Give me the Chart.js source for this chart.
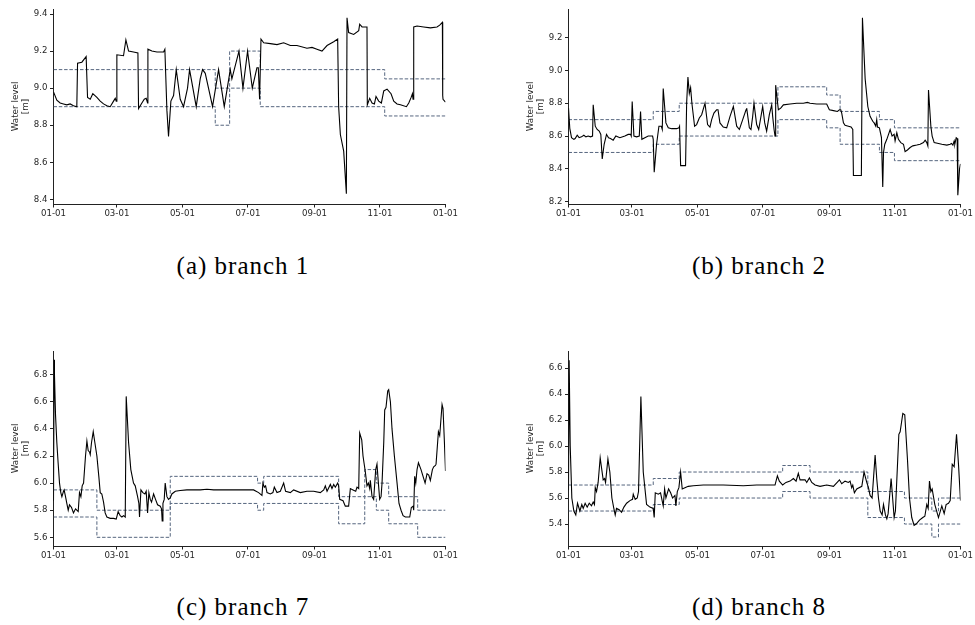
<!DOCTYPE html>
<html>
<head>
<meta charset="utf-8">
<script src="https://cdn.jsdelivr.net/npm/chart.js@4.4.1/dist/chart.umd.min.js"></script>
<style>
  html, body { margin: 0; padding: 0; background: #fff; width: 975px; height: 625px; overflow: hidden; }
  .panel { position: absolute; }
  .caption {
    position: absolute; width: 300px; text-align: center;
    font-family: "Liberation Serif", "Times New Roman", serif;
    font-size: 25px; line-height: 25px; letter-spacing: 1px; color: #000;
  }
</style>
</head>
<body>
<canvas id="chartA" class="panel" width="460" height="230" style="left:0px;top:0px"></canvas>
<canvas id="chartB" class="panel" width="460" height="230" style="left:515px;top:0px"></canvas>
<canvas id="chartC" class="panel" width="460" height="230" style="left:0px;top:341.5px"></canvas>
<canvas id="chartD" class="panel" width="460" height="230" style="left:515px;top:341.5px"></canvas>
<div class="caption" style="left:93px;top:253px">(a) branch 1</div>
<div class="caption" style="left:609px;top:253px">(b) branch 2</div>
<div class="caption" style="left:93px;top:594px">(c) branch 7</div>
<div class="caption" style="left:609px;top:594px">(d) branch 8</div>
<script>
// x axis: day of year, ticks every two months
const tickDays = [0, 59, 120, 181, 243, 304, 365];
const tickLabels = ['01-01', '03-01', '05-01', '07-01', '09-01', '11-01', '01-01'];

// Branch 1
const b1Days = [
  0, 3.1, 6.2, 9.3, 12.4, 15.5, 18.6, 21.7, 22.4, 26.4,
  30.4, 31.7, 34.2, 36.6, 40.4, 43.5, 46.6, 49.7, 52.8, 55.9,
  57.5, 58.4, 59.0, 65.2, 67.4, 69.9, 74.5, 78.6, 79.2, 82.3,
  84.5, 86.3, 87.6, 87.9, 91.6, 96.3, 102.5, 103.7, 105.6, 107.1,
  109.3, 111.8, 114.3, 118.0, 121.1, 124.8, 126.7, 132.9, 136.6, 138.8,
  141.3, 148.1, 153.7, 159.0, 164.6, 166.1, 172.7, 176.4, 180.7, 185.1,
  189.4, 190.7, 191.9, 193.2, 195.7, 201.9, 208.1, 214.3, 220.5, 226.7,
  236.0, 240.7, 245.3, 250.0, 254.7, 260.9, 264.6, 265.5, 267.1, 270.2,
  272.7, 273.3, 274.8, 279.5, 284.2, 285.1, 287.3, 291.9, 292.2, 294.4,
  296.6, 298.8, 300.3, 302.8, 305.3, 307.5, 310.6, 314.3, 316.8, 319.9,
  323.0, 328.6, 330.8, 333.0, 334.2, 334.8, 335.4, 338.5, 344.7, 350.9,
  357.1, 359.6, 362.1, 362.4, 362.7, 365
];
const b1Level = [
  8.98, 8.935, 8.92, 8.915, 8.91, 8.915, 8.905, 8.90, 9.135, 9.14,
  9.17, 8.95, 8.94, 8.97, 8.95, 8.93, 8.915, 8.905, 8.90, 8.93,
  8.945, 8.93, 9.18, 9.175, 9.26, 9.2, 9.195, 9.19, 8.89, 8.92,
  8.94, 8.945, 8.92, 9.21, 9.2, 9.195, 9.195, 9.21, 8.88, 8.74,
  8.93, 8.96, 9.1, 8.94, 8.9, 9.0, 9.1, 8.9, 9.05, 9.1,
  9.08, 8.9, 9.1, 8.9, 9.1, 9.05, 9.2, 9.0, 9.2, 9.0,
  9.11, 9.11, 8.94, 9.265, 9.245, 9.24, 9.235, 9.245, 9.23, 9.23,
  9.215, 9.22, 9.21, 9.2, 9.23, 9.25, 9.265, 8.9, 8.75, 8.66,
  8.43, 9.38, 9.3, 9.29, 9.31, 9.345, 9.33, 9.33, 8.91, 8.945,
  8.92, 8.915, 8.955, 8.93, 8.92, 8.985, 8.995, 8.97, 8.93, 8.915,
  8.91, 8.9, 8.92, 8.95, 8.97, 8.94, 9.33, 9.335, 9.33, 9.325,
  9.33, 9.34, 9.355, 8.96, 8.94, 8.925
];
const b1BoundDays = [0, 150.6, 164, 192.5, 308.4, 365];
const b1Upper = [9.1, 9.0, 9.2, 9.1, 9.05, 9.05];
const b1Lower = [8.9, 8.8, 9.0, 8.9, 8.85, 8.85];
const b1Ticks = [8.4, 8.6, 8.8, 9.0, 9.2, 9.4];

// Branch 2
const b2Days = [
  0, 1.2, 2.8, 5.0, 6.2, 8.1, 9.9, 12.1, 14.3, 16.2,
  18.3, 20.5, 22.4, 23.0, 24.9, 26.7, 28.6, 30.1, 31.4, 33.2,
  35.4, 37.3, 39.1, 41.6, 44.1, 47.8, 52.5, 55.6, 57.8, 58.4,
  59.3, 60.9, 63.4, 65.9, 67.1, 68.3, 71.1, 74.2, 78.3, 78.9,
  79.8, 82.0, 84.2, 86.4, 87.3, 88.2, 90.7, 92.9, 96.0, 100.7,
  102.8, 103.4, 104.4, 109.0, 110.0, 111.2, 112.5, 113.7, 114.9, 117.4,
  119.3, 121.8, 124.0, 127.1, 129.5, 131.7, 133.3, 135.4, 137.9, 139.2,
  141.0, 144.1, 147.3, 150.4, 153.5, 156.6, 159.1, 162.2, 165.3, 165.9,
  168.4, 169.9, 171.5, 172.7, 175.2, 177.1, 180.8, 182.7, 184.5, 187.0,
  189.2, 190.1, 191.4, 192.3, 192.9, 195.4, 197.6, 200.1, 206.3, 212.5,
  218.7, 222.4, 224.9, 231.1, 237.3, 240.4, 242.9, 246.7, 250.4, 252.3,
  253.5, 254.4, 256.0, 257.5, 260.6, 263.1, 264.7, 265.3, 272.7, 273.7,
  276.2, 278.7, 280.8, 283.3, 284.6, 286.1, 287.0, 287.7, 289.5, 291.4,
  292.6, 293.3, 294.5, 296.4, 299.5, 301.3, 303.2, 304.1, 305.7, 307.2,
  309.4, 311.9, 313.4, 315.6, 318.1, 320.6, 324.3, 327.4, 330.5, 332.1,
  333.6, 334.6, 335.2, 337.4, 338.6, 340.5, 344.5, 347.6, 352.3, 355.4,
  356.6, 357.9, 359.1, 359.7, 361.0, 361.9, 362.5, 364.1, 365
];
const b2Level = [
  8.77, 8.647, 8.59, 8.58, 8.585, 8.605, 8.59, 8.595, 8.605, 8.595,
  8.6, 8.595, 8.6, 8.79, 8.66, 8.64, 8.63, 8.61, 8.46, 8.55,
  8.61, 8.59, 8.585, 8.575, 8.6, 8.59, 8.6, 8.61, 8.61, 8.6,
  8.81, 8.6, 8.595, 8.6, 8.75, 8.58, 8.59, 8.6, 8.6, 8.58,
  8.38, 8.55, 8.66, 8.66, 8.64, 8.89, 8.68, 8.65, 8.645, 8.645,
  8.65, 8.66, 8.42, 8.42, 8.8, 8.96, 8.86, 8.895, 8.8, 8.66,
  8.67, 8.71, 8.73, 8.8, 8.67, 8.655, 8.7, 8.74, 8.76, 8.76,
  8.68, 8.655, 8.65, 8.72, 8.78, 8.66, 8.64, 8.7, 8.76, 8.77,
  8.65, 8.64, 8.72, 8.8, 8.67, 8.64, 8.78, 8.68, 8.63, 8.73,
  8.79, 8.72, 8.64, 8.6, 8.91, 8.76, 8.77, 8.79, 8.795, 8.8,
  8.8, 8.805, 8.8, 8.795, 8.795, 8.795, 8.76, 8.755, 8.75, 8.76,
  8.76, 8.74, 8.68, 8.665, 8.66, 8.655, 8.64, 8.36, 8.36, 9.32,
  8.95, 8.78, 8.72, 8.69, 8.68, 8.66, 8.7, 8.655, 8.65, 8.59,
  8.29, 8.5, 8.55, 8.58, 8.64, 8.6, 8.61, 8.57, 8.62, 8.58,
  8.56, 8.55, 8.505, 8.515, 8.53, 8.54, 8.545, 8.55, 8.56, 8.575,
  8.56, 8.54, 8.88, 8.66, 8.6, 8.56, 8.555, 8.55, 8.545, 8.55,
  8.555, 8.545, 8.57, 8.55, 8.59, 8.585, 8.24, 8.4, 8.43
];
const b2BoundDays = [0, 78.9, 103.1, 195, 240.4, 252.9, 289.5, 303.5, 365];
const b2Upper = [8.7, 8.75, 8.8, 8.9, 8.85, 8.75, 8.7, 8.65, 8.65];
const b2Lower = [8.5, 8.55, 8.6, 8.7, 8.65, 8.55, 8.5, 8.45, 8.45];
const b2Ticks = [8.2, 8.4, 8.6, 8.8, 9.0, 9.2];

// Branch 7
const b7Days = [
  0, 0.6, 0.9, 1.9, 3.1, 4.3, 5.6, 6.8, 7.8, 9.3,
  9.9, 11.2, 12.4, 13.7, 14.9, 16.8, 18.6, 20.5, 21.7, 23.0,
  24.2, 25.5, 26.7, 28.0, 29.8, 31.1, 32.3, 33.5, 34.2, 35.4,
  37.0, 38.5, 40.4, 42.2, 43.5, 45.0, 46.6, 48.1, 49.7, 52.8,
  55.9, 58.4, 60.2, 62.1, 63.7, 65.2, 66.8, 67.7, 69.9, 72.0,
  74.5, 76.1, 78.3, 79.5, 80.1, 81.4, 83.2, 85.1, 86.3, 87.6,
  88.8, 90.1, 91.3, 93.2, 95.0, 96.9, 99.4, 100.6, 101.2, 101.9,
  103.1, 104.0, 105.6, 107.1, 108.7, 110.2, 113.4, 118.0, 124.2, 136.6,
  142.9, 149.1, 167.7, 186.3, 191.0, 194.1, 195.0, 196.3, 197.5, 198.8,
  201.9, 204.3, 205.6, 208.1, 211.2, 214.3, 216.1, 220.5, 223.6, 229.8,
  236.0, 242.2, 248.4, 251.6, 253.1, 254.7, 257.8, 259.3, 260.9, 262.4,
  264.6, 265.5, 266.5, 269.6, 271.7, 274.8, 276.4, 278.9, 281.4, 282.6,
  284.2, 285.1, 287.0, 288.2, 290.4, 291.9, 293.2, 294.4, 295.0, 296.6,
  298.1, 300.0, 301.2, 302.5, 303.7, 305.0, 305.9, 307.5, 308.4, 309.6,
  311.2, 312.1, 313.7, 315.2, 317.4, 319.9, 321.7, 323.6, 325.5, 327.6,
  331.7, 333.2, 334.8, 335.4, 336.3, 337.3, 338.5, 339.8, 342.2, 344.1,
  346.0, 347.8, 349.4, 350.9, 352.8, 354.0, 355.6, 356.2, 358.4, 359.6,
  361.8, 362.7, 364.0, 365
];
const b7Level = [
  5.87, 6.91, 6.8, 6.5, 6.3, 6.15, 6.0, 5.93, 5.9, 5.94,
  5.95, 5.9, 5.85, 5.8, 5.84, 5.82, 5.78, 5.81, 5.8, 5.79,
  5.93, 5.9, 5.98, 6.0, 6.2, 6.31, 6.24, 6.23, 6.21, 6.3,
  6.38, 6.3, 6.2, 6.05, 5.93, 5.92, 5.86, 5.78, 5.75, 5.74,
  5.74, 5.735, 5.79, 5.76, 5.75, 5.76, 5.75, 6.64, 6.3, 6.1,
  6.0, 5.98, 5.9, 5.85, 5.75, 5.95, 5.93, 5.92, 5.94, 5.78,
  5.93, 5.88, 5.86, 5.92, 5.88, 5.84, 5.83, 5.81, 5.72, 5.85,
  5.88, 6.0, 5.9, 5.88, 5.89, 5.92, 5.94, 5.945, 5.95, 5.95,
  5.955, 5.95, 5.95, 5.95, 5.93, 5.91, 6.0, 5.97, 5.98, 5.93,
  5.92, 5.93, 5.97, 5.93, 5.94, 6.0, 5.94, 5.93, 5.95, 5.93,
  5.94, 5.94, 5.93, 5.95, 5.98, 5.94, 5.99, 5.96, 5.99, 5.97,
  6.0, 5.98, 5.88, 5.87, 5.83, 5.83, 5.96, 5.95, 5.94, 5.97,
  5.96, 6.37, 6.32, 6.2, 6.08, 5.98, 6.0, 5.96, 6.02, 5.9,
  5.88, 6.1, 6.14, 6.0, 5.88, 5.9, 6.0, 6.3, 6.54, 6.56,
  6.68, 6.69, 6.6, 6.4, 6.2, 6.0, 5.85, 5.8, 5.76, 5.75,
  5.75, 5.82, 5.83, 5.8, 6.05, 6.0, 6.1, 6.15, 6.1, 6.05,
  6.0, 6.07, 6.06, 6.02, 6.1, 6.12, 6.13, 6.14, 6.38, 6.35,
  6.58, 6.55, 6.3, 6.09
];
const b7BoundDays = [0, 40.4, 108.7, 190, 195.7, 265.5, 289.8, 300.6, 312.1, 339.1, 365];
const b7Upper = [5.95, 5.8, 6.05, 6.0, 6.05, 5.9, 6.1, 6.0, 5.9, 5.8, 5.8];
const b7Lower = [5.75, 5.6, 5.85, 5.8, 5.85, 5.7, 5.9, 5.8, 5.7, 5.6, 5.6];
const b7Ticks = [5.6, 5.8, 6.0, 6.2, 6.4, 6.6, 6.8];

// Branch 8
const b8Days = [
  0, 0.6, 1.6, 3.1, 5.0, 6.8, 8.4, 10.6, 12.4, 13.7,
  15.5, 17.4, 19.3, 21.4, 23.0, 24.2, 24.9, 26.1, 27.6, 29.5,
  30.8, 32.3, 33.6, 34.5, 36.7, 38.5, 40.4, 42.2, 43.5, 44.7,
  47.2, 49.4, 51.6, 54.1, 57.2, 59.6, 60.3, 62.1, 64.0, 65.2,
  67.4, 69.6, 72.7, 75.8, 78.9, 79.8, 80.8, 83.6, 85.7, 88.2,
  89.5, 90.7, 93.2, 95.1, 96.9, 99.1, 100.0, 101.3, 102.8, 104.4,
  105.9, 108.4, 111.5, 116.2, 125.5, 144.1, 162.8, 175.2, 192.3, 194.5,
  196.3, 199.4, 202.5, 206.3, 209.4, 211.9, 214.0, 215.6, 220.3, 221.8,
  224.3, 226.5, 229.6, 234.2, 240.4, 246.7, 252.3, 254.4, 257.5, 260.6,
  262.2, 263.7, 264.7, 266.2, 268.4, 273.1, 275.2, 277.7, 279.3, 280.8,
  282.7, 285.5, 287.0, 288.6, 290.2, 292.0, 293.3, 295.1, 296.4, 297.6,
  300.4, 303.2, 304.4, 307.6, 308.8, 311.3, 313.1, 315.6, 317.5, 319.6,
  321.8, 323.7, 326.8, 329.9, 331.8, 333.6, 334.9, 336.1, 337.4, 338.6,
  341.1, 344.5, 347.6, 349.8, 351.6, 353.8, 355.4, 357.3, 359.1, 361.3,
  363.2, 365
];
const b8Level = [
  5.66, 6.66, 6.0, 5.6, 5.5, 5.47, 5.56, 5.5, 5.55, 5.52,
  5.56, 5.53, 5.56, 5.54, 5.57, 5.55, 5.68, 5.65, 5.72, 5.91,
  5.83, 5.74, 5.75, 5.72, 5.9, 5.8, 5.6, 5.52, 5.47, 5.52,
  5.51, 5.49, 5.53, 5.56, 5.58, 5.59, 5.63, 5.59, 5.6, 5.65,
  6.38, 5.8, 5.55, 5.53, 5.52, 5.45, 5.64, 5.63, 5.64, 5.54,
  5.67, 5.6, 5.67, 5.64, 5.6, 5.62, 5.54, 5.65, 5.68, 5.8,
  5.67, 5.68, 5.69, 5.695, 5.7, 5.7, 5.695, 5.7, 5.7, 5.77,
  5.73, 5.7, 5.72, 5.73, 5.75, 5.73, 5.79, 5.74, 5.74, 5.72,
  5.755, 5.72, 5.7, 5.69, 5.7, 5.69, 5.74, 5.71, 5.73, 5.72,
  5.73, 5.68, 5.7, 5.64, 5.67, 5.69, 5.8, 5.72, 5.68, 5.62,
  5.6, 5.93, 5.75, 5.6, 5.5, 5.47, 5.55, 5.47, 5.44, 5.48,
  5.75, 5.45, 5.5, 6.09, 6.11, 6.25, 6.24, 5.9, 5.6, 5.45,
  5.39, 5.4, 5.43, 5.45, 5.46, 5.55, 5.52, 5.73, 5.65, 5.67,
  5.55, 5.45, 5.54, 5.48, 5.55, 5.56, 5.58, 5.86, 5.84, 6.09,
  5.85, 5.58
];
const b8BoundDays = [0, 78.9, 103.1, 199.4, 224.9, 278.7, 312.8, 338.3, 344.5, 365];
const b8Upper = [5.7, 5.75, 5.8, 5.85, 5.8, 5.65, 5.6, 5.5, 5.6, 5.6];
const b8Lower = [5.5, 5.55, 5.6, 5.65, 5.6, 5.45, 5.4, 5.3, 5.4, 5.4];
const b8Ticks = [5.4, 5.6, 5.8, 6.0, 6.2, 6.4, 6.6];

const textColor = '#262626';
const boundColor = '#56667f';

function toPoints(xs, ys) {
    return xs.map((x, i) => ({ x: x, y: ys[i] }));
}

function makeChart(id, days, level, boundDays, upper, lower, yMin, yMax, yTicks) {
    const boundStyle = {
        borderColor: boundColor,
        borderWidth: 1,
        borderDash: [3.5, 1.8],
        stepped: true,
        pointRadius: 0,
        fill: false
    };
    return new Chart(document.getElementById(id), {
        type: 'line',
        data: {
            datasets: [
                { data: toPoints(days, level), borderColor: '#000', borderWidth: 1.1, pointRadius: 0, tension: 0, fill: false },
                Object.assign({ data: toPoints(boundDays, upper) }, boundStyle),
                Object.assign({ data: toPoints(boundDays, lower) }, boundStyle)
            ]
        },
        options: {
            responsive: false,
            animation: false,
            devicePixelRatio: 1,
            layout: { padding: { left: 0, right: 14.5, top: 9, bottom: 0 } },
            plugins: { legend: { display: false }, tooltip: { enabled: false } },
            scales: {
                x: {
                    type: 'linear',
                    min: 0,
                    max: 365,
                    afterFit: s => { s.height = 26; },
                    afterBuildTicks: s => { s.ticks = tickDays.map(v => ({ value: v })); },
                    ticks: {
                        autoSkip: false,
                        maxRotation: 0,
                        padding: 1.5,
                        color: textColor,
                        font: { family: 'DejaVu Sans', size: 8.6 },
                        callback: (v, i) => tickLabels[i]
                    },
                    grid: { drawOnChartArea: false, drawTicks: true, tickLength: 3.5, tickColor: '#222' },
                    border: { display: true, color: '#222', width: 1 }
                },
                y: {
                    min: yMin,
                    max: yMax,
                    afterFit: s => { s.width = 53.5; },
                    afterBuildTicks: s => { s.ticks = yTicks.map(v => ({ value: v })); },
                    ticks: {
                        padding: 2.5,
                        color: textColor,
                        font: { family: 'DejaVu Sans', size: 8.6 },
                        callback: v => v.toFixed(1)
                    },
                    grid: { drawOnChartArea: false, drawTicks: true, tickLength: 3.5, tickColor: '#222' },
                    border: { display: true, color: '#222', width: 1 },
                    title: {
                        display: true,
                        text: ['Water level', '[m]'],
                        color: textColor,
                        font: { family: 'DejaVu Sans', size: 8.8, lineHeight: 1.1 },
                        padding: { top: 11, bottom: 0 }
                    }
                }
            }
        }
    });
}

makeChart('chartA', b1Days, b1Level, b1BoundDays, b1Upper, b1Lower, 8.375, 9.427, b1Ticks);
makeChart('chartB', b2Days, b2Level, b2BoundDays, b2Upper, b2Lower, 8.186, 9.374, b2Ticks);
makeChart('chartC', b7Days, b7Level, b7BoundDays, b7Upper, b7Lower, 5.536, 6.975, b7Ticks);
makeChart('chartD', b8Days, b8Level, b8BoundDays, b8Upper, b8Lower, 5.231, 6.731, b8Ticks);
</script>
</body>
</html>
